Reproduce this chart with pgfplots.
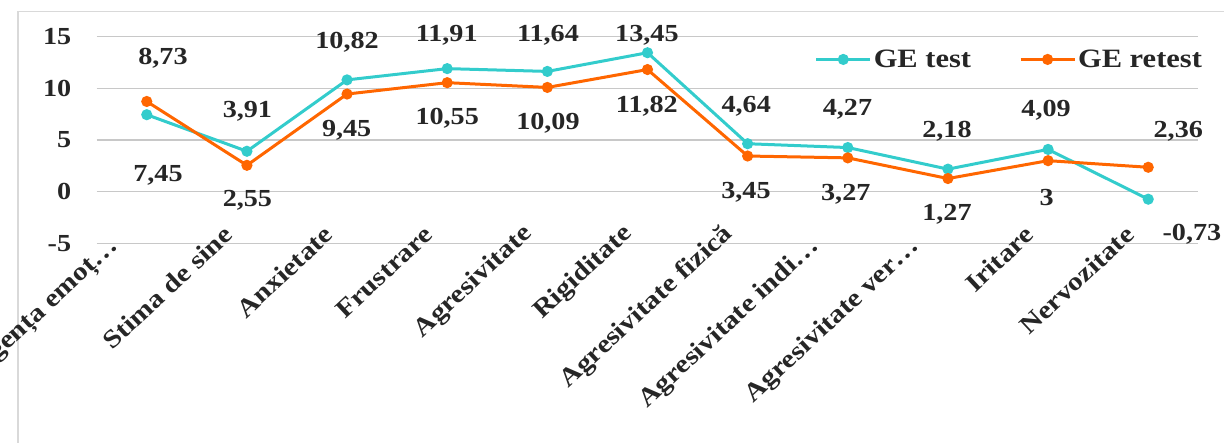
\documentclass[border=0pt]{standalone}
\usepackage{fontspec}
\setmainfont{Liberation Serif}[FakeStretch=1.15]
\usepackage{pgfplots}
\usepackage{pgfplotstable}
\pgfplotsset{compat=1.18}
\definecolor{teal1}{RGB}{51,204,204}
\definecolor{orng}{RGB}{255,102,0}
\definecolor{txt}{RGB}{38,38,38}
\definecolor{gridc}{RGB}{200,200,200}
\definecolor{framec}{RGB}{217,217,217}

\pgfplotstableread{
x y
0 7.45
1 3.91
2 10.82
3 11.91
4 11.64
5 13.45
6 4.64
7 4.27
8 2.18
9 4.09
10 -0.73
}\testdata

\pgfplotstableread{
x y
0 8.73
1 2.55
2 9.45
3 10.55
4 10.09
5 11.82
6 3.45
7 3.27
8 1.27
9 3
10 2.36
}\retestdata

\pgfplotstableread{
x y lab
0.112 1.60 7,45
1.005 7.74 3,91
2.0 14.42 10,82
2.995 15.15 11,91
4.006 15.15 11,64
4.994 15.15 13,45
5.986 8.29 4,64
6.997 7.97 4,27
7.99 5.87 2,18
8.98 7.90 4,09
10.436 -4.13 -0,73
}\testlab

\pgfplotstableread{
x y lab
0.162 12.88 8,73
1.005 -0.82 2,55
1.996 5.95 9,45
3.0 7.10 10,55
4.006 6.61 10,09
4.994 8.23 11,82
5.983 -0.10 3,45
6.98 -0.26 3,27
7.99 -2.20 1,27
8.985 -0.58 3
10.30 5.81 2,36
}\retestlab

\newcommand{\bigfont}{\fontsize{24.5bp}{28bp}\selectfont\bfseries}
\newcommand{\catfont}{\fontsize{25.5bp}{29bp}\selectfont\bfseries}
\newcommand{\legfont}{\fontsize{26.5bp}{30bp}\selectfont\bfseries}

\begin{document}
\begin{tikzpicture}
\useasboundingbox (0,0) rectangle (1224bp,-443bp);
\draw[framec, line width=1.2bp] (18bp,-700bp) -- (18bp,-11.5bp) -- (1500bp,-11.5bp);
\begin{axis}[
  at={(96.7bp,-243.3bp)}, anchor=south west,
  scale only axis, width=1101.6bp, height=206.6bp,
  xmin=-0.5, xmax=10.5, ymin=-5, ymax=15,
  ytick={-5,0,5,10,15},
  yticklabels={-5,0,5,10,15},
  xtick={0,...,10},
  xticklabels={Inteligența emoț…\hspace*{18bp},Stima de sine,Anxietate,Frustrare,Agresivitate,Rigiditate,Agresivitate fizică,Agresivitate indi…\hspace*{18bp},Agresivitate ver…\hspace*{18bp},Iritare,Nervozitate},
  ymajorgrids,
  grid style={gridc, line width=1.2bp},
  axis line style={draw=none},
  major tick length=0pt,
  clip=false,
  tick label style={font=\bigfont, text=txt},
  yticklabel style={anchor=east, xshift=-22bp},
  xticklabel style={font=\catfont, xshift=-16bp, yshift=15bp, rotate=43, anchor=east},
  legend columns=2,
  legend style={draw=none, fill=none, at={(1.008,0.89)}, anchor=east, font=\legfont, text=txt,
    /tikz/every even column/.append style={column sep=46bp}},
  legend image code/.code={\draw[mark repeat=2,mark phase=2,#1] plot coordinates {(0bp,0bp) (27bp,0bp) (54bp,0bp)};},
]
\addplot[teal1, line width=3bp, mark=*, mark size=4bp, mark options={fill=teal1, draw=teal1}] table[x=x,y=y] {\testdata};
\addlegendentry{GE test}
\addplot[orng, line width=3bp, mark=*, mark size=4bp, mark options={fill=orng, draw=orng}] table[x=x,y=y] {\retestdata};
\addlegendentry{GE retest}
\addplot[draw=none, mark=none, forget plot, nodes near coords, point meta=explicit symbolic,
  every node near coord/.append style={anchor=center, font=\bigfont, text=txt, inner sep=0pt}]
  table[x=x,y=y,meta=lab] {\testlab};
\addplot[draw=none, mark=none, forget plot, nodes near coords, point meta=explicit symbolic,
  every node near coord/.append style={anchor=center, font=\bigfont, text=txt, inner sep=0pt}]
  table[x=x,y=y,meta=lab] {\retestlab};
\end{axis}
\end{tikzpicture}
\end{document}
